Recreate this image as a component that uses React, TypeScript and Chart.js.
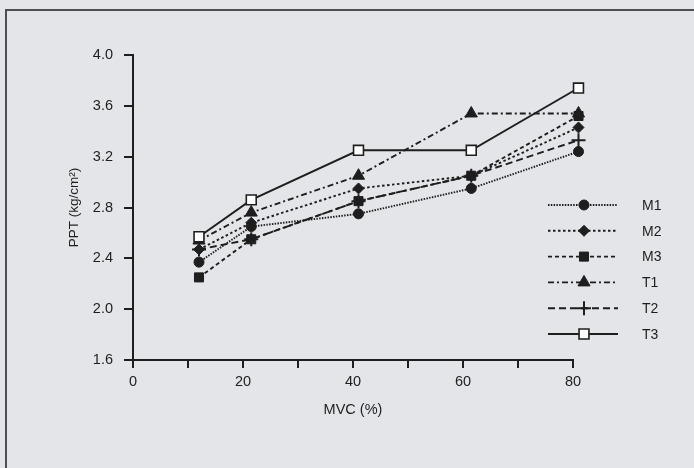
import React, { useEffect, useRef } from "react";
import { Chart, registerables } from "chart.js";
import { drawPoint } from "chart.js/helpers";

Chart.register(...registerables);

// ---- data ----
const mvc = [12, 21.5, 41, 61.5, 81];
const seriesNames = ["M1", "M2", "M3", "T1", "T2", "T3"];
const M1 = [2.37, 2.65, 2.75, 2.95, 3.24];
const M2 = [2.47, 2.68, 2.95, 3.05, 3.43];
const M3 = [2.25, 2.55, 2.85, 3.05, 3.52];
const T1 = [2.54, 2.76, 3.05, 3.54, 3.54];
const T2 = [2.47, 2.55, 2.85, 3.05, 3.33];
const T3 = [2.57, 2.86, 3.25, 3.25, 3.74];
const seriesValues = [M1, M2, M3, T1, T2, T3];
const xTickLabels = ["0", "20", "40", "60", "80"];
const yTickLabels = ["1.6", "2.0", "2.4", "2.8", "3.2", "3.6", "4.0"];

const INK = "#1e1e1e";
const BG = "#e3e5e8";
const FONT = "'Liberation Sans', Arial, sans-serif";

const styles = [
  { dash: [1.5, 1.3], point: "circle", radius: 5, fill: INK },
  { dash: [2.5, 2.5], point: "rectRot", radius: 5.5, fill: INK },
  { dash: [4, 3], point: "rect", radius: 6.4, fill: INK },
  { dash: [6, 3, 2, 3], point: "triangle", radius: 7, fill: INK },
  { dash: [7, 4], point: "cross", radius: 7, fill: INK },
  { dash: [], point: "rect", radius: 7, fill: "#ffffff" },
];

const bgPlugin = {
  id: "bgFrame",
  beforeDraw(chart: any) {
    const ctx = chart.ctx;
    ctx.save();
    ctx.fillStyle = BG;
    ctx.fillRect(0, 0, chart.width, chart.height);
    ctx.strokeStyle = "#4d4f52";
    ctx.lineWidth = 2;
    ctx.strokeRect(6, 10, chart.width + 20, chart.height + 20);
    ctx.restore();
  },
};

const legendPlugin = {
  id: "lineLegend",
  afterDraw(chart: any, _args: any, opts: any) {
    const ctx = chart.ctx;
    ctx.save();
    chart.data.datasets.forEach((ds: any, i: number) => {
      const y = opts.y0 + i * opts.dy;
      ctx.beginPath();
      ctx.setLineDash(ds.borderDash || []);
      ctx.lineWidth = ds.borderWidth;
      ctx.strokeStyle = ds.borderColor;
      ctx.moveTo(opts.x1, y);
      ctx.lineTo(opts.x2, y);
      ctx.stroke();
      ctx.setLineDash([]);
      ctx.fillStyle = ds.pointBackgroundColor;
      ctx.strokeStyle = ds.pointBorderColor;
      ctx.lineWidth = ds.pointBorderWidth;
      drawPoint(ctx, { pointStyle: ds.pointStyle, radius: ds.pointRadius, rotation: 0, borderWidth: ds.pointBorderWidth } as any, opts.xm, y);
      ctx.fillStyle = INK;
      ctx.font = `14px ${FONT}`;
      ctx.textAlign = "left";
      ctx.textBaseline = "middle";
      ctx.fillText(ds.label, opts.xt, y + 1);
    });
    ctx.restore();
  },
};

export default function App() {
  const ref = useRef<HTMLCanvasElement | null>(null);

  useEffect(() => {
    if (!ref.current) return;
    const datasets = seriesNames.map((name, i) => ({
      label: name,
      data: mvc.map((x, j) => ({ x, y: seriesValues[i][j] })),
      borderColor: INK,
      borderWidth: 1.9,
      borderDash: styles[i].dash,
      pointStyle: styles[i].point,
      pointRadius: styles[i].radius,
      pointBackgroundColor: styles[i].fill,
      pointBorderColor: INK,
      pointBorderWidth: i === 5 ? 1.6 : i === 4 ? 2 : 1,
      fill: false,
      tension: 0,
      clip: false,
      order: 6 - i,
    }));

    const chart = new Chart(ref.current, {
      type: "line",
      data: { datasets },
      plugins: [bgPlugin, legendPlugin],
      options: {
        animation: false,
        responsive: false,
        devicePixelRatio: 1,
        layout: { autoPadding: false, padding: { top: 55, left: 62, right: 121, bottom: 48 } },
        plugins: {
          legend: { display: false },
          tooltip: { enabled: false },
          lineLegend: { x1: 548, x2: 618, xm: 584, xt: 642, y0: 205, dy: 25.8 },
        } as any,
        scales: {
          x: {
            type: "linear",
            min: 0,
            max: 80,
            afterFit: (s: any) => { s.height = 60; },
            ticks: {
              stepSize: 10,
              autoSkip: false,
              maxRotation: 0,
              padding: 5,
              color: INK,
              font: { family: FONT, size: 14.5 },
              callback: (v: any) => {
                const idx = xTickLabels.indexOf(String(v));
                return idx >= 0 ? xTickLabels[idx] : "";
              },
            },
            grid: { drawOnChartArea: false, drawTicks: true, tickLength: 8, color: INK, lineWidth: 2 },
            border: { display: true, color: INK, width: 2 },
            title: { display: true, text: "MVC (%)", color: INK, font: { family: FONT, size: 14.5 }, padding: { top: 0, bottom: 1 } },
          },
          y: {
            type: "linear",
            min: 1.6,
            max: 4.0,
            afterFit: (s: any) => { s.width = 71; },
            ticks: {
              stepSize: 0.4,
              padding: 11,
              color: INK,
              font: { family: FONT, size: 14.5 },
              callback: (v: any) => {
                const t = Number(v).toFixed(1);
                return yTickLabels.includes(t) ? t : "";
              },
            },
            grid: { drawOnChartArea: false, drawTicks: true, tickLength: 9, color: INK, lineWidth: 2 },
            border: { display: true, color: INK, width: 2 },
            title: { display: true, text: "PPT (kg/cm²)", color: INK, font: { family: FONT, size: 13.5 }, padding: { top: 4, bottom: 0 } },
          },
        },
      } as any,
    });
    return () => chart.destroy();
  }, []);

  return (
    <div style={{ position: "absolute", left: 0, top: 0, width: 694, height: 468 }}>
      <canvas ref={ref} width={694} height={468} style={{ display: "block" }} />
    </div>
  );
}
